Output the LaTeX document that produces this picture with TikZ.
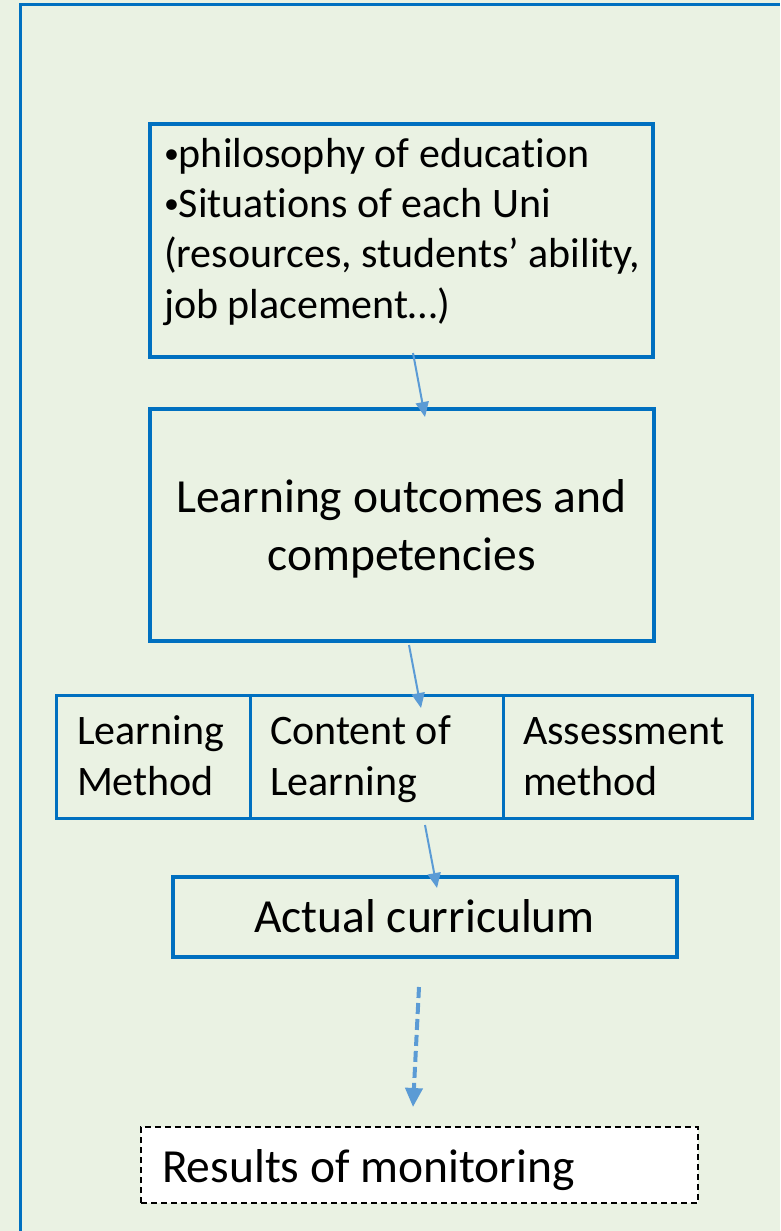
\documentclass[tikz,border=0pt]{standalone}
\usepackage{fontspec}
\setmainfont{Carlito}[RawFeature={-liga;-clig;-calt;-dlig}]
\usetikzlibrary{arrows.meta}
\definecolor{bgc}{RGB}{234,242,227}
\definecolor{framec}{HTML}{0070C0}
\definecolor{arrc}{HTML}{5B9BD5}
\newcommand{\smbul}{\raisebox{4pt}{\fontsize{30}{30}\selectfont •}}
\begin{document}
\begin{tikzpicture}[x=1pt,y=-1pt,
  thickbox/.style={draw=framec, line width=4pt, inner sep=0pt, outer sep=0pt},
  cellbox/.style={draw=framec, line width=3pt, inner sep=0pt, outer sep=0pt},
  dashbox/.style={draw=black, fill=white, line width=1.5pt, dash pattern=on 6pt off 4pt, inner sep=0pt, outer sep=0pt},
  small/.style={font=\fontsize{42}{50.3}\selectfont, inner sep=0pt, outer sep=0pt, align=left, anchor=base west},
  big/.style={font=\fontsize{47.5}{58}\selectfont, inner sep=0pt, outer sep=0pt},
  flow/.style={draw=arrc, line width=2pt, -{Triangle[length=15pt,width=13pt]}},
  flowdash/.style={draw=arrc, line width=4pt, dash pattern=on 11pt off 5pt, -{Triangle[length=19pt,width=17pt]}}]
\fill[bgc] (0,0) rectangle (780,1231);
\useasboundingbox (0,0) rectangle (780,1231);
\draw[framec, line width=3pt] (20.5,1231) -- (20.5,5) -- (780,5);

\node[thickbox, minimum width=503pt, minimum height=233pt] (phil) at (401.5,240.5) {};
\node[small] (philt) at (164,318) {\smbul philosophy of education\\\smbul Situations of each Uni\\(resources, students’ ability,\\job placement…)};

\node[thickbox, minimum width=504pt, minimum height=232pt] (lo) at (402,525) {};
\node[big, align=center, anchor=base] (lot) at (401.5,570) {Learning outcomes and\\competencies};

\node[cellbox, minimum width=194pt, minimum height=123pt] (lm) at (153,756.5) {};
\node[cellbox, minimum width=253pt, minimum height=123pt] (cl) at (376.5,756.5) {};
\node[cellbox, minimum width=249pt, minimum height=123pt] (am) at (627.5,756.5) {};
\node[small] (lmt) at (77,795) {Learning\\Method};
\node[small] (clt) at (270,795) {Content of\\Learning};
\node[small] (amt) at (523,795) {Assessment\\method};

\node[thickbox, minimum width=504pt, minimum height=80pt] (ac) at (425,917) {};
\node[big, anchor=base] (act) at (424.5,932) {Actual curriculum};

\node[dashbox, minimum width=557pt, minimum height=76pt] (rm) at (419.5,1165) {};
\node[big, anchor=base west] (rmt) at (162,1182) {Results of monitoring};

\draw[flow] ([xshift=11.5pt,yshift=4pt]phil.south) -- ([xshift=23pt,yshift=-8pt]lo.north);
\draw[flow] ([xshift=7pt,yshift=-4pt]lo.south) -- ([xshift=44.5pt,yshift=-13pt]cl.north);
\draw[flow] ([xshift=48.5pt,yshift=-7pt]cl.south) -- ([xshift=12pt,yshift=-11pt]ac.north);
\draw[flowdash] ([xshift=-6pt,yshift=-30pt]ac.south) -- ([xshift=-6.5pt,yshift=20pt]rm.north);
\end{tikzpicture}
\end{document}
